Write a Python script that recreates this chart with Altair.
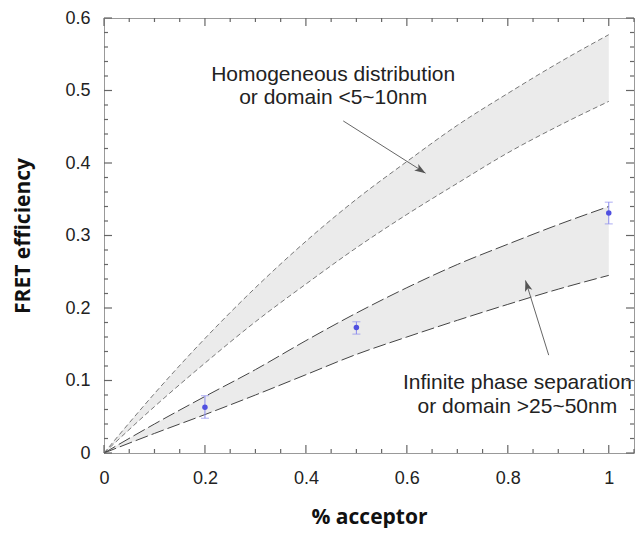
import altair as alt
import pandas as pd

# ---- data ----
acceptor = [0.0, 0.1, 0.2, 0.3, 0.4, 0.5, 0.6, 0.7, 0.8, 0.9, 1.0]
homog_hi = [0.0, 0.082, 0.158, 0.228, 0.292, 0.350, 0.402, 0.452, 0.496, 0.538, 0.577]
homog_lo = [0.0, 0.064, 0.124, 0.181, 0.233, 0.283, 0.329, 0.372, 0.414, 0.451, 0.485]
phase_hi = [0.0, 0.040, 0.078, 0.115, 0.155, 0.193, 0.228, 0.260, 0.288, 0.315, 0.340]
phase_lo = [0.0, 0.027, 0.053, 0.080, 0.108, 0.136, 0.160, 0.183, 0.205, 0.226, 0.245]

meas_x = [0.2, 0.5, 1.0]
meas_y = [0.063, 0.173, 0.331]
meas_lo = [0.048, 0.164, 0.316]
meas_hi = [0.079, 0.181, 0.346]

ann_text = ["Homogeneous distribution", "or domain <5~10nm",
            "Infinite phase separation", "or domain >25~50nm"]
ann_x = [0.454, 0.454, 0.819, 0.819]
ann_y = [0.522, 0.489, 0.0966, 0.0636]

arrow_id = ["a", "b"]
arrow_x0 = [0.474, 0.881]
arrow_y0 = [0.458, 0.135]
arrow_x1 = [0.637, 0.835]
arrow_y1 = [0.386, 0.238]
arrow_angle = [122, 343]

x_major = [0, 0.2, 0.4, 0.6, 0.8, 1.0]
x_minor = [0.05, 0.1, 0.15, 0.25, 0.3, 0.35, 0.45, 0.5, 0.55, 0.65, 0.7, 0.75,
           0.85, 0.9, 0.95, 1.05]
y_major = [0, 0.1, 0.2, 0.3, 0.4, 0.5, 0.6]
y_minor = [0.02, 0.04, 0.06, 0.08, 0.12, 0.14, 0.16, 0.18, 0.22, 0.24, 0.26, 0.28,
           0.32, 0.34, 0.36, 0.38, 0.42, 0.44, 0.46, 0.48, 0.52, 0.54, 0.56, 0.58]

curves = pd.DataFrame({"x": acceptor, "hh": homog_hi, "hl": homog_lo,
                       "ph": phase_hi, "pl": phase_lo})
meas = pd.DataFrame({"x": meas_x, "y": meas_y, "lo": meas_lo, "hi": meas_hi})
ann = pd.DataFrame({"x": ann_x, "y": ann_y, "t": ann_text})
arrows = pd.DataFrame({"id": arrow_id, "x0": arrow_x0, "y0": arrow_y0,
                       "x1": arrow_x1, "y1": arrow_y1, "ang": arrow_angle})

W, H = 530, 435
XD = [0, 1.05]
YD = [0, 0.6]
xs = alt.Scale(domain=XD, nice=False, zero=False)
ys = alt.Scale(domain=YD, nice=False, zero=False)

LBL = dict(labelFont="Liberation Sans", labelFontSize=18, labelColor="#222",
           labelFlush=False, ticks=False, domain=False, grid=False)
TTL = dict(titleFont="Open Sans", titleFontSize=21, titleFontWeight="bold",
           titleColor="#111")

x_axis = alt.Axis(title="% acceptor", values=x_major, format=".1~f",
                  labelPadding=16, titlePadding=19, **LBL, **TTL)
y_axis = alt.Axis(title="FRET efficiency", values=y_major, format=".1~f",
                  labelPadding=14, titlePadding=31, **LBL, **TTL)

base = alt.Chart(curves)

band1 = base.mark_area(color="#ebebeb", interpolate="monotone").encode(
    x=alt.X("x:Q", scale=xs, axis=x_axis),
    y=alt.Y("hl:Q", scale=ys, axis=y_axis),
    y2="hh:Q")
band2 = base.mark_area(color="#ebebeb", interpolate="monotone").encode(
    x=alt.X("x:Q", scale=xs, axis=None),
    y=alt.Y("pl:Q", scale=ys, axis=None), y2="ph:Q")


def curve(field, color, dash):
    return base.mark_line(color=color, strokeWidth=1, strokeDash=dash,
                          interpolate="monotone").encode(
        x=alt.X("x:Q", scale=xs, axis=None),
        y=alt.Y(field + ":Q", scale=ys, axis=None))


l1 = curve("hh", "#777", [5, 3])
l2 = curve("hl", "#777", [5, 3])
l3 = curve("ph", "#444", [13, 4])
l4 = curve("pl", "#444", [13, 4])

mb = alt.Chart(meas)
err = mb.mark_rule(color="#8a8aee", strokeWidth=1).encode(
    x=alt.X("x:Q", scale=xs, axis=None),
    y=alt.Y("lo:Q", scale=ys, axis=None), y2="hi:Q")
cap_lo = mb.mark_tick(color="#8a8aee", orient="horizontal", size=8, thickness=1).encode(
    x=alt.X("x:Q", scale=xs, axis=None), y=alt.Y("lo:Q", scale=ys, axis=None))
cap_hi = mb.mark_tick(color="#8a8aee", orient="horizontal", size=8, thickness=1).encode(
    x=alt.X("x:Q", scale=xs, axis=None), y=alt.Y("hi:Q", scale=ys, axis=None))
pts = mb.mark_circle(color="#5050e0", size=30, opacity=1).encode(
    x=alt.X("x:Q", scale=xs, axis=None), y=alt.Y("y:Q", scale=ys, axis=None))

txt = alt.Chart(ann).mark_text(font="Liberation Sans", fontSize=21, color="#222",
                               align="center", baseline="middle").encode(
    x=alt.X("x:Q", scale=xs, axis=None), y=alt.Y("y:Q", scale=ys, axis=None),
    text="t:N")

ab = alt.Chart(arrows)
shafts = ab.mark_rule(color="#666", strokeWidth=1).encode(
    x=alt.X("x0:Q", scale=xs, axis=None), y=alt.Y("y0:Q", scale=ys, axis=None),
    x2="x1:Q", y2="y1:Q")
heads = ab.mark_point(shape="M0,0 L0.7,2 L0,1.5 L-0.7,2 Z", filled=True,
                      color="#555", opacity=1, size=120).encode(
    x=alt.X("x1:Q", scale=xs, axis=None), y=alt.Y("y1:Q", scale=ys, axis=None),
    angle=alt.Angle("ang:Q", scale=None))


# inward tick marks on all four sides, positioned through the scales
def xticks(vals, p0, p1):
    return alt.Chart(pd.DataFrame({"v": vals})).mark_rule(
        color="#666", strokeWidth=1.2).encode(
        x=alt.X("v:Q", scale=xs, axis=None), y=alt.value(p0), y2=alt.value(p1))


def yticks(vals, p0, p1):
    return alt.Chart(pd.DataFrame({"v": vals})).mark_rule(
        color="#666", strokeWidth=1.2).encode(
        y=alt.Y("v:Q", scale=ys, axis=None), x=alt.value(p0), x2=alt.value(p1))


ticks = [
    xticks(x_major, H, H - 8), xticks(x_minor, H, H - 4),
    xticks(x_major, 0, 8), xticks(x_minor, 0, 4),
    yticks(y_major, 0, 8), yticks(y_minor, 0, 4),
    yticks(y_major, W, W - 8), yticks(y_minor, W, W - 4),
]

chart = alt.layer(band1, band2, l1, l2, l3, l4, err, cap_lo, cap_hi, pts,
                  txt, shafts, heads, *ticks).resolve_axis(
    x="independent", y="independent"
).properties(
    width=W, height=H,
    autosize=alt.AutoSizeParams(type="none"),
    padding={"left": 96, "top": 10, "right": 2, "bottom": 75},
).configure_view(stroke="#999", strokeWidth=1)

chart.save("out.html", embed_options={"renderer": "svg", "actions": False})
